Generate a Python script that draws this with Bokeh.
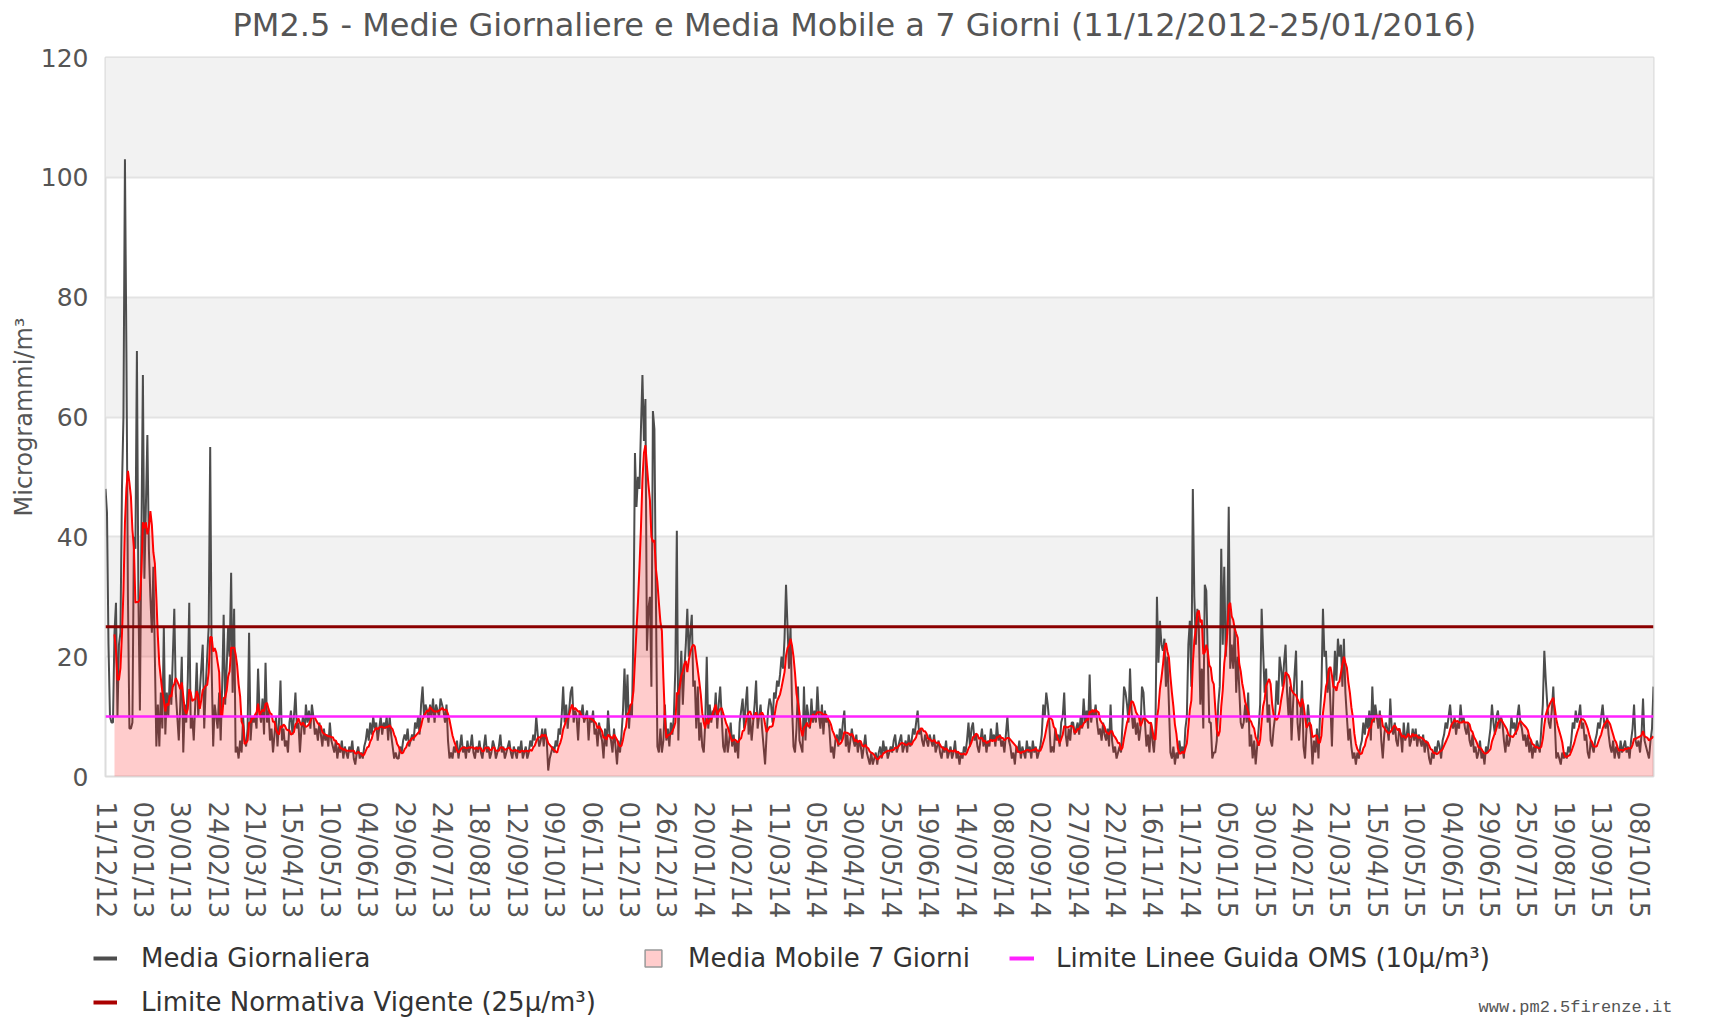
import numpy as np
import pandas as pd
from bokeh.plotting import figure
from bokeh.layouts import column
from bokeh.models import Range1d, FixedTicker, Legend, LegendItem, Label
from bokeh.embed import file_html
from bokeh.resources import INLINE

title_text = "PM2.5 - Medie Giornaliere e Media Mobile a 7 Giorni (11/12/2012-25/01/2016)"
y_label = "Microgrammi/m³"
credit = "www.pm2.5firenze.it"

tick_labels = ["11/12/12", "05/01/13", "30/01/13", "24/02/13", "21/03/13", "15/04/13", "10/05/13",
               "04/06/13", "29/06/13", "24/07/13", "18/08/13", "12/09/13", "09/10/13", "06/11/13",
               "01/12/13", "26/12/13", "20/01/14", "14/02/14", "11/03/14", "05/04/14", "30/04/14",
               "25/05/14", "19/06/14", "14/07/14", "08/08/14", "02/09/14", "27/09/14", "22/10/14",
               "16/11/14", "11/12/14", "05/01/15", "30/01/15", "24/02/15", "21/03/15", "15/04/15",
               "10/05/15", "04/06/15", "29/06/15", "25/07/15", "19/08/15", "13/09/15", "08/10/15"]
label_step = 25  # one label every 25 daily values

limite_oms = 10
limite_normativa = 25
window = 7

# daily means (µg/m³), one value per day with data
daily_part1 = [
    48, 44, 22, 10, 9, 9, 24, 29, 10, 22, 24, 48, 60, 103, 70, 30, 8, 8, 9, 40, 38, 71, 30, 11, 40,
    67, 33, 45, 57, 38, 30, 24, 35, 20, 5, 12, 5, 14, 8, 25, 7, 14, 10, 17, 12, 20, 28, 14, 10, 6,
    12, 20, 4, 12, 9, 16, 29, 8, 10, 6, 12, 19, 10, 14, 18, 22, 8, 15, 20, 25, 55, 18, 5, 12, 10,
    8, 14, 6, 15, 27, 12, 18, 25, 20, 34, 14, 28, 4, 5, 3, 6, 4, 10, 6, 5, 8, 24, 6, 10, 9,
    10, 8, 18, 11, 9, 13, 7, 19, 9, 11, 6, 8, 4, 7, 10, 5, 9, 16, 6, 8, 5, 6, 4, 9, 11,
    7, 10, 14, 8, 9, 4, 8, 10, 7, 12, 9, 11, 8, 12, 10, 7, 8, 6, 9, 7, 5, 8, 6, 7, 5,
    9, 6, 5, 4, 6, 3, 5, 4, 6, 3, 5, 4, 3, 5, 4, 6, 3, 2, 4, 5, 3, 4, 3, 5, 6,
    8, 6, 9, 7, 10, 8, 9, 6, 8, 10, 7, 9, 8, 10, 6, 10, 7, 5, 3, 4, 3, 3, 5, 4, 6,
    7, 6, 8, 5, 6, 7, 6, 9, 8, 10, 7, 12, 15, 10, 12, 11, 9, 12, 10, 13, 9, 12, 11, 10, 13,
    12, 11, 9, 12, 6, 3, 4, 3, 5, 4, 6, 3, 5, 7, 4, 5, 3, 6, 4, 5, 7, 4, 3, 5, 4,
]
daily_part2 = [
    6, 4, 3, 5, 7, 4, 5, 3, 4, 6, 5, 3, 4, 5, 7, 4, 5, 3, 4, 5, 6, 4, 3, 5, 4,
    3, 5, 4, 6, 3, 4, 5, 3, 4, 6, 5, 7, 6, 10, 7, 5, 6, 8, 5, 8, 6, 1, 3, 4, 5,
    4, 6, 5, 8, 7, 10, 15, 9, 12, 8, 11, 14, 15, 9, 11, 10, 6, 11, 10, 12, 9, 10, 11, 6, 10,
    9, 11, 7, 8, 5, 9, 7, 6, 3, 8, 5, 11, 7, 6, 4, 8, 5, 2, 6, 4, 7, 11, 18, 10, 17,
    8, 12, 10, 25, 54, 45, 50, 48, 58, 67, 56, 63, 21, 28, 30, 15, 61, 58, 30, 5, 4, 8, 4, 6, 12,
    6, 8, 5, 9, 7, 10, 18, 41, 6, 15, 21, 12, 18, 22, 28, 20, 24, 27, 15, 16, 8, 15, 6, 9, 5,
    4, 9, 20, 8, 12, 9, 11, 10, 14, 8, 12, 15, 10, 5, 4, 8, 4, 6, 9, 5, 7, 4, 6, 3, 9,
    11, 13, 8, 12, 15, 7, 10, 6, 9, 12, 16, 8, 10, 12, 8, 5, 2, 7, 11, 13, 12, 9, 14, 13, 16,
    15, 17, 20, 18, 23, 32, 25, 18, 25, 12, 5, 4, 8, 15, 6, 5, 4, 15, 6, 12, 10, 8, 13, 9, 11,
    9, 15, 10, 8, 12, 7, 11, 9, 10, 8, 4, 5, 3, 6, 7, 5, 8, 6, 9, 11, 5, 7, 4, 6, 8,
]
daily_part3 = [
    6, 5, 7, 4, 6, 5, 3, 5, 7, 4, 3, 2, 4, 2, 3, 4, 2, 4, 5, 3, 6, 4, 5, 3, 4,
    5, 4, 6, 7, 4, 5, 6, 7, 4, 5, 6, 4, 7, 5, 6, 8, 7, 9, 11, 7, 8, 6, 5, 7, 6,
    5, 7, 6, 5, 7, 4, 5, 6, 4, 3, 5, 4, 6, 3, 4, 5, 3, 4, 6, 3, 4, 2, 4, 3, 5,
    4, 6, 9, 5, 8, 9, 6, 7, 5, 4, 6, 8, 5, 7, 4, 6, 5, 8, 6, 7, 5, 9, 6, 7, 5,
    6, 4, 7, 10, 6, 5, 3, 4, 2, 5, 4, 6, 3, 5, 4, 3, 6, 4, 5, 3, 6, 4, 5, 3, 4,
    5, 7, 12, 10, 14, 12, 9, 4, 5, 4, 8, 6, 7, 5, 9, 10, 14, 7, 5, 8, 6, 9, 9, 7, 8,
    9, 7, 10, 8, 13, 9, 11, 8, 17, 9, 11, 10, 12, 9, 7, 8, 6, 9, 7, 6, 8, 5, 12, 6, 4,
    5, 3, 4, 5, 4, 9, 15, 14, 12, 9, 18, 11, 8, 10, 7, 9, 6, 8, 15, 14, 9, 5, 7, 4, 9,
    6, 4, 8, 30, 19, 26, 22, 21, 23, 15, 20, 12, 4, 3, 5, 2, 4, 3, 6, 4, 5, 3, 8, 10, 22,
    26, 15, 48, 30, 22, 28, 25, 12, 18, 8, 32, 31, 20, 9, 9, 3, 4, 4, 6, 12, 15, 38, 22, 35, 20,
]
daily_part4 = [
    25, 45, 18, 22, 18, 25, 14, 20, 15, 9, 8, 9, 12, 9, 14, 5, 7, 3, 6, 2, 5, 8, 12, 28, 21,
    14, 18, 9, 12, 6, 5, 8, 10, 16, 12, 20, 18, 15, 19, 22, 14, 10, 15, 6, 12, 17, 21, 9, 6, 10,
    16, 5, 3, 8, 12, 9, 7, 2, 6, 4, 8, 3, 10, 15, 28, 20, 21, 14, 18, 12, 5, 14, 21, 16, 23,
    20, 22, 15, 23, 14, 10, 6, 8, 5, 3, 4, 2, 4, 3, 5, 6, 9, 7, 10, 8, 11, 6, 15, 9, 12,
    10, 8, 11, 6, 3, 7, 9, 8, 6, 13, 8, 7, 9, 6, 5, 8, 7, 4, 9, 6, 7, 9, 5, 6, 8,
    6, 8, 5, 7, 6, 5, 7, 4, 6, 5, 3, 2, 4, 3, 5, 4, 6, 5, 3, 6, 7, 9, 8, 10, 12,
    9, 8, 10, 7, 9, 8, 12, 9, 10, 8, 7, 9, 6, 5, 7, 4, 5, 3, 4, 6, 3, 4, 2, 5, 4,
    6, 8, 12, 9, 7, 10, 11, 8, 10, 9, 6, 4, 7, 5, 6, 10, 8, 9, 7, 10, 12, 9, 8, 6, 7,
    5, 7, 4, 6, 3, 5, 4, 6, 5, 4, 8, 12, 21, 16, 12, 9, 8, 11, 15, 9, 3, 4, 3, 2, 4,
    3, 4, 3, 5, 4, 6, 9, 8, 11, 9, 10, 12, 8, 9, 6, 7, 4, 3, 6, 5, 4, 6, 7, 9, 8,
    10, 12, 9, 8, 10, 7, 5, 4, 6, 3, 5, 4, 3, 6, 4, 5, 6, 4, 5, 3, 6, 8, 12, 6, 5,
    6, 4, 7, 13, 6, 5, 4, 3, 6, 8, 15,
]

media_giornaliera = daily_part1 + daily_part2 + daily_part3 + daily_part4

n = len(media_giornaliera)
x = np.arange(n)
daily = np.array(media_giornaliera, dtype=float)
ma = pd.Series(daily).rolling(window).mean().to_numpy()
xm = x[window - 1:]
mam = ma[window - 1:]

FONT = "DejaVu Sans"
W = 1729
H_TITLE = 45
H_MAIN = 885
H_LEG = 87


def strip(height):
    f = figure(width=W, height=height, output_backend="svg", toolbar_location=None,
               x_range=Range1d(0, 1), y_range=Range1d(0, 1),
               x_axis_type=None, y_axis_type=None, min_border=0,
               outline_line_color=None, background_fill_color="white", border_fill_color="white")
    f.grid.visible = False
    try:
        f.frame_align = False
    except Exception:
        pass
    return f


# title strip
t = strip(H_TITLE)
t.add_layout(Label(x=232, y=H_TITLE - 24, x_units="screen", y_units="screen", text=title_text,
                   text_font=FONT, text_font_size="32px", text_color="#555555",
                   text_baseline="middle"))

# main chart
p = figure(width=W, height=H_MAIN, output_backend="svg", toolbar_location=None,
           x_range=Range1d(0, n - 1), y_range=Range1d(0, 120),
           min_border_left=105, min_border_right=76, min_border_top=12, min_border_bottom=154,
           background_fill_color="white", border_fill_color="white")

p.outline_line_color = "#dcdcdc"
p.outline_line_width = 2

p.xgrid.visible = False
p.ygrid.grid_line_color = "#e3e3e3"
p.ygrid.grid_line_width = 2
p.ygrid.band_fill_color = "#f2f2f2"
p.ygrid.band_fill_alpha = 1.0

p.yaxis.ticker = FixedTicker(ticks=list(range(0, 121, 20)))
p.yaxis.axis_label = y_label
p.yaxis.axis_label_text_font = FONT
p.yaxis.axis_label_text_font_size = "24px"
p.yaxis.axis_label_text_font_style = "normal"
p.yaxis.axis_label_text_color = "#555555"
p.yaxis.axis_label_standoff = 0
p.yaxis.major_label_text_font = FONT
p.yaxis.major_label_text_font_size = "25px"
p.yaxis.major_label_text_color = "#555555"
p.yaxis.major_label_standoff = 17

xticks = [i * label_step for i in range(len(tick_labels))]
p.xaxis.ticker = FixedTicker(ticks=xticks)
p.xaxis.major_label_overrides = {tk: lab for tk, lab in zip(xticks, tick_labels)}
p.xaxis.major_label_orientation = "vertical"
p.xaxis.major_label_text_font = FONT
p.xaxis.major_label_text_font_size = "26px"
p.xaxis.major_label_text_color = "#555555"
p.xaxis.major_label_standoff = 25

for ax in (p.xaxis, p.yaxis):
    ax.axis_line_color = None
    ax.major_tick_line_color = None
    ax.minor_tick_line_color = None
    ax.major_tick_out = 0
    ax.major_tick_in = 0

p.line(x, daily, line_color="#4d4d4d", line_width=2)
p.varea(x=xm, y1=0, y2=mam, fill_color="#ff0000", fill_alpha=0.2)
p.line(xm, mam, line_color="#ff0000", line_width=2)
p.line([x[0], x[-1]], [limite_oms, limite_oms], line_color="#ff22ff", line_width=2.5)
p.line([x[0], x[-1]], [limite_normativa, limite_normativa], line_color="#8b0000", line_width=3)

# legend strip
q = strip(H_LEG)

# legend proxies: the series' own first values, which fall outside this strip's range
lg_gray = q.line(x[:2], daily[:2], line_color="#4d4d4d", line_width=4)
lg_pink = q.scatter(x[:1], daily[:1], marker="square", size=17,
                    fill_color="#ffcccc", line_color="#999999", line_width=1.5)
lg_oms = q.line(x[:2], daily[:2], line_color="#ff22ff", line_width=4)
lg_norm = q.line(x[:2], daily[:2], line_color="#aa0000", line_width=4)


def add_legend(label, rend, loc, gw, gh, standoff):
    lg = Legend(items=[LegendItem(label=label, renderers=[rend])], location=loc,
                orientation="horizontal", padding=0, margin=0, spacing=0,
                glyph_width=gw, glyph_height=gh, label_height=gh, label_standoff=standoff,
                label_text_font=FONT, label_text_font_size="26px", label_text_color="#333333",
                border_line_alpha=0, background_fill_alpha=0)
    q.add_layout(lg, "center")


add_legend("Media Giornaliera", lg_gray, (93, 38), 24, 42, 24)
add_legend("Media Mobile 7 Giorni", lg_pink, (632, 38), 42, 42, 14)
add_legend("Limite Linee Guida OMS (10µ/m³)", lg_oms, (1009, 38), 25, 42, 22)
add_legend("Limite Normativa Vigente (25µ/m³)", lg_norm, (93, 0), 24, 30, 24)

q.add_layout(Label(x=1478, y=1, x_units="screen", y_units="screen", text=credit,
                   text_font="Liberation Mono", text_font_size="17px", text_color="#555555",
                   text_baseline="bottom"))

layout = column(t, p, q, spacing=0)
open("out.html", "w").write(file_html(layout, INLINE))
